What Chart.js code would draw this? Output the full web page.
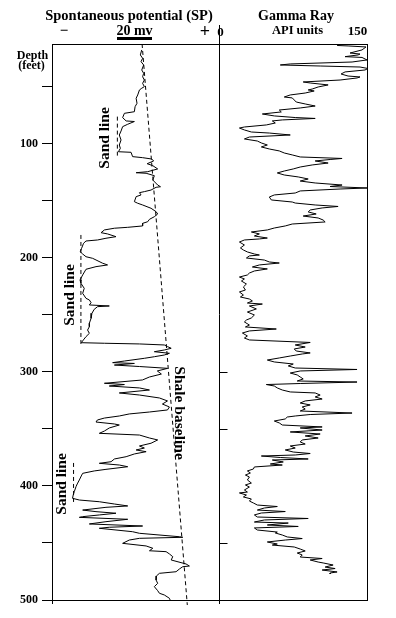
<!DOCTYPE html>
<html>
<head>
<meta charset="utf-8">
<title>SP and Gamma Ray log</title>
<script src="https://cdn.jsdelivr.net/npm/chart.js@4.4.0/dist/chart.umd.min.js"></script>
<style>
  body { margin: 0; background: #fff; }
  #wrap { width: 396px; height: 618px; }
</style>
</head>
<body>
<div id="wrap"><canvas id="logChart" width="396" height="618"></canvas></div>
<script>
// depth in feet, SP in mV (0 at the track divider), gamma ray in API units
const spDepth = [17.5, 21.9, 24.8, 27.8, 30.7, 35.1, 38.0, 41.0, 43.9, 46.8,
  49.7, 51.1, 52.6, 57.0, 59.9, 64.3, 67.3, 71.7, 73.1, 76.9,
  79.8, 80.3, 82.7, 84.8, 88.6, 92.1, 96.5, 100.9, 103.8, 106.8,
  107.3, 111.1, 112.0, 113.2, 114.9, 117.3, 119.0, 121.9, 124.3, 125.2,
  125.7, 127.8, 131.6, 136.0, 137.5, 138.0, 140.4, 141.8, 142.7, 144.7,
  146.2, 150.6, 152.0, 153.5, 156.4, 159.4, 161.4, 163.8, 166.1, 168.2,
  169.6, 171.9, 173.1, 173.9, 175.4, 177.8, 178.9, 181.3, 182.7, 184.2,
  185.1, 187.1, 191.5, 194.5, 196.5, 198.9, 200.3, 204.6, 206.1, 207.6,
  209.9, 214.9, 219.3, 222.2, 226.6, 231.0, 235.4, 236.8, 239.2, 241.2,
  242.1, 242.7, 245.0, 248.5, 252.9, 257.3, 260.3, 263.2, 266.1, 269.0,
  271.9, 274.3, 274.8, 275.4, 276.3, 277.8, 279.2, 280.7, 282.2, 283.6,
  285.1, 286.6, 288.0, 290.4, 291.8, 292.5, 293.9, 295.2, 296.8, 299.1,
  301.8, 304.4, 307.0, 309.9, 311.0, 312.3, 314.0, 315.8, 318.4, 320.2,
  322.8, 325.4, 328.1, 330.7, 333.3, 335.1, 336.8, 338.6, 340.4, 342.1,
  343.9, 345.6, 346.5, 349.1, 351.8, 353.8, 355.3, 357.9, 359.6, 362.5,
  364.9, 366.7, 368.4, 369.9, 371.9, 374.3, 376.3, 378.7, 380.1, 381.6,
  383.1, 385.4, 386.8, 388.9, 391.2, 394.7, 398.2, 400.6, 405.0, 407.9,
  410.8, 412.3, 413.8, 415.8, 417.5, 418.7, 421.1, 422.5, 423.9, 425.4,
  426.9, 427.5, 429.2, 431.3, 433.3, 435.1, 436.2, 437.1, 440.1, 441.5,
  444.5, 445.0, 445.9, 447.4, 450.3, 452.6, 454.6, 456.8, 457.6, 459.6,
  462.0, 464.9, 468.4, 470.2, 470.8, 472.8, 475.2, 476.6, 478.9, 482.5,
  485.4, 488.3, 491.8, 494.1, 495.6, 498.5, 500.0];
const spMv = [-43.8, -44.6, -43.3, -44.2, -42.7, -43.8, -42.7, -43.3, -42.3, -43.3,
  -42.3, -43.8, -45.1, -46.1, -47.0, -46.5, -47.6, -48.0, -53.7, -54.7,
  -52.7, -48.0, -51.8, -54.7, -55.6, -56.6, -55.6, -56.6, -56.0, -57.1,
  -49.9, -49.0, -43.3, -38.1, -37.0, -40.7, -37.5, -34.7, -40.4, -47.0,
  -41.3, -36.6, -37.5, -34.7, -33.1, -35.6, -38.5, -42.3, -45.1, -44.2,
  -47.0, -48.0, -46.1, -43.3, -38.5, -35.6, -34.7, -36.6, -39.4, -40.4,
  -43.3, -43.3, -51.8, -59.4, -65.1, -67.0, -63.3, -58.5, -64.2, -69.0,
  -75.6, -77.0, -78.1, -78.9, -77.5, -75.6, -71.8, -66.1, -63.3, -69.9,
  -75.6, -77.5, -79.0, -78.5, -76.6, -77.5, -75.6, -73.7, -72.7, -73.7,
  -62.3, -69.0, -70.9, -72.2, -72.7, -73.7, -73.7, -74.7, -73.7, -75.6,
  -77.1, -78.3, -65.1, -45.1, -30.9, -29.0, -27.0, -30.9, -36.6, -28.0,
  -30.9, -36.6, -42.3, -53.7, -60.4, -48.0, -59.4, -45.1, -29.0, -34.9,
  -32.6, -39.4, -43.4, -65.1, -53.7, -62.3, -45.1, -39.4, -56.6, -45.1,
  -33.7, -29.1, -32.0, -28.0, -29.1, -39.4, -50.9, -56.6, -65.1, -69.1,
  -69.9, -59.4, -56.6, -62.3, -65.1, -68.0, -45.1, -39.4, -34.7, -38.5,
  -45.1, -42.3, -47.0, -41.3, -48.0, -52.7, -59.4, -61.3, -68.0, -56.6,
  -51.8, -64.2, -70.9, -77.5, -78.3, -79.4, -80.6, -81.3, -82.3, -82.9,
  -83.3, -79.4, -68.0, -59.4, -51.8, -64.2, -77.5, -69.9, -58.5, -68.0,
  -77.5, -79.4, -51.8, -64.2, -73.7, -43.3, -62.3, -68.0, -49.0, -45.1,
  -22.3, -20.4, -45.1, -50.9, -54.7, -41.3, -37.5, -39.4, -29.9, -28.0,
  -26.1, -27.0, -18.5, -16.6, -20.4, -22.3, -24.2, -33.7, -35.4, -35.6,
  -34.7, -36.6, -34.7, -33.7, -30.9, -28.0, -27.6];

const grDepth = [13.6, 14.0, 14.9, 17.5, 20.2, 21.1, 21.9, 23.4, 24.1, 26.3,
  28.1, 29.8, 30.7, 31.6, 32.5, 33.8, 35.1, 36.8, 38.6, 40.4,
  41.2, 42.1, 43.9, 45.6, 46.5, 48.2, 50.0, 51.8, 52.6, 53.5,
  55.3, 57.0, 58.8, 59.6, 61.4, 63.2, 64.9, 66.7, 68.4, 70.2,
  71.9, 73.7, 75.4, 76.8, 77.6, 78.9, 79.8, 81.6, 83.3, 85.1,
  86.0, 87.7, 89.5, 90.4, 92.1, 93.9, 95.6, 97.4, 99.1, 100.9,
  102.6, 104.4, 106.1, 107.9, 109.6, 111.4, 112.7, 113.6, 114.9, 116.7,
  118.4, 120.2, 121.9, 123.7, 125.4, 127.2, 128.9, 130.7, 132.5, 134.2,
  136.0, 137.3, 138.6, 139.5, 141.2, 143.0, 144.7, 146.5, 149.1, 150.9,
  151.8, 153.5, 154.8, 156.1, 157.9, 159.6, 161.4, 163.2, 164.9, 166.7,
  168.4, 170.2, 171.9, 173.7, 175.4, 177.2, 178.9, 180.7, 182.5, 183.3,
  184.2, 186.0, 188.6, 191.2, 193.0, 194.7, 196.5, 197.4, 198.2, 200.0,
  201.8, 203.5, 204.4, 206.1, 207.9, 209.6, 211.4, 213.2, 214.9, 216.7,
  218.4, 220.2, 222.8, 225.4, 228.1, 229.8, 232.5, 234.2, 236.0, 237.7,
  239.5, 240.4, 242.1, 244.7, 247.4, 250.0, 252.6, 254.4, 256.1, 258.8,
  260.5, 262.3, 264.0, 265.8, 268.4, 270.2, 271.9, 274.1, 276.3, 278.1,
  279.8, 281.6, 283.3, 284.2, 286.0, 287.7, 289.5, 291.2, 293.0, 294.7,
  296.5, 297.8, 299.1, 300.9, 302.6, 304.4, 306.1, 307.9, 308.8, 310.1,
  311.0, 312.3, 314.0, 315.8, 317.5, 318.4, 320.2, 321.9, 323.7, 325.4,
  327.2, 328.9, 330.7, 332.5, 334.2, 336.0, 337.3, 338.6, 339.5, 341.2,
  343.0, 344.7, 346.5, 348.2, 349.1, 350.9, 352.6, 354.4, 356.1, 357.9,
  359.6, 361.4, 363.2, 364.9, 366.7, 368.4, 370.2, 371.5, 372.8, 373.7,
  375.0, 376.3, 377.2, 378.9, 380.7, 381.6, 383.3, 385.1, 386.8, 388.6,
  390.4, 392.1, 394.7, 397.4, 399.1, 400.9, 403.5, 405.3, 406.1, 407.9,
  409.6, 411.4, 413.2, 414.9, 416.7, 418.0, 419.3, 421.1, 422.4, 423.7,
  425.4, 427.2, 428.5, 429.8, 431.6, 432.5, 434.2, 435.5, 436.8, 438.6,
  440.4, 441.2, 443.0, 444.7, 446.1, 447.4, 449.1, 450.9, 451.8, 453.5,
  455.3, 457.0, 458.8, 460.5, 462.3, 463.6, 464.9, 466.7, 467.5, 469.3,
  471.1, 472.4, 473.7, 475.4, 476.3, 477.2];
const grApi = [119, 130, 148, 144, 132, 142, 140, 127, 144, 149,
  134, 72, 62, 102, 142, 150, 147, 127, 123, 130,
  142, 139, 122, 85, 92, 110, 100, 94, 90, 96,
  87, 72, 66, 74, 76, 78, 87, 97, 82, 61,
  63, 44, 56, 77, 97, 64, 54, 57, 48, 26,
  21, 26, 33, 51, 72, 31, 26, 39, 43, 49,
  43, 51, 61, 66, 74, 82, 124, 112, 97, 110,
  94, 82, 75, 66, 59, 66, 80, 90, 82, 97,
  124, 112, 149, 122, 82, 77, 56, 51, 53, 74,
  77, 97, 120, 104, 92, 90, 98, 85, 100, 105,
  107, 74, 67, 56, 49, 33, 41, 36, 49, 41,
  26, 21, 26, 22, 25, 29, 36, 41, 31, 28,
  46, 51, 61, 41, 34, 49, 36, 31, 29, 21,
  26, 23, 28, 25, 27, 21, 25, 22, 31, 34,
  29, 44, 31, 38, 29, 36, 33, 28, 26, 31,
  27, 58, 31, 24, 29, 26, 31, 92, 77, 87,
  76, 78, 92, 84, 72, 61, 49, 56, 75, 70,
  77, 139, 82, 72, 79, 82, 85, 79, 139, 82,
  48, 56, 59, 64, 72, 97, 102, 97, 104, 87,
  82, 92, 84, 87, 82, 134, 92, 77, 69, 67,
  56, 61, 64, 104, 82, 104, 72, 102, 87, 100,
  84, 82, 87, 72, 77, 67, 75, 92, 77, 43,
  62, 90, 54, 65, 52, 64, 36, 35, 29, 32,
  27, 31, 29, 33, 27, 31, 26, 29, 21, 28,
  25, 33, 31, 35, 39, 59, 46, 39, 67, 43,
  36, 39, 90, 46, 36, 70, 49, 80, 36, 39,
  59, 57, 64, 69, 84, 67, 49, 59, 54, 76,
  82, 87, 79, 84, 82, 104, 92, 100, 105, 115,
  107, 117, 104, 119, 112, 112];

// shale baseline and sand lines (dashed guides on the SP track)
const shaleDepth = [12.3, 504.4];
const shaleMv = [-43.6, -17.8];
const sandTop = [76.0, 179.8, 379.8];
const sandBottom = [111.0, 276.3, 414.9];
const sandMv = [-57.7, -78.5, -82.7];

const depthTicks = [50, 100, 150, 200, 250, 300, 350, 400, 450, 500];
const depthLabels = [100, 200, 300, 400, 500];
const dividerTicks = [300, 350, 450];

const FONT = '"Liberation Serif", "Times New Roman", serif';

function pts(ys, xs) {
  return ys.map((y, i) => ({ x: xs[i], y: y }));
}

const datasets = [
  {
    label: 'SP', xAxisID: 'xsp', yAxisID: 'y',
    data: pts(spDepth, spMv),
    showLine: true, borderColor: '#000', borderWidth: 1, pointRadius: 0
  },
  {
    label: 'Gamma Ray', xAxisID: 'xgr', yAxisID: 'y',
    data: pts(grDepth, grApi),
    showLine: true, borderColor: '#000', borderWidth: 1, pointRadius: 0
  },
  {
    label: 'Shale baseline', xAxisID: 'xsp', yAxisID: 'y',
    data: pts(shaleDepth, shaleMv),
    showLine: true, borderColor: '#000', borderWidth: 1, borderDash: [4, 3],
    pointRadius: 0, clip: false
  }
];
sandMv.forEach((mv, i) => {
  datasets.push({
    label: 'Sand line', xAxisID: 'xsp', yAxisID: 'y',
    data: pts([sandTop[i], sandBottom[i]], [mv, mv]),
    showLine: true, borderColor: '#000', borderWidth: 1, borderDash: [4, 3],
    pointRadius: 0
  });
});

function text(ctx, s, x, y, size, base) {
  ctx.font = 'bold ' + size + 'px ' + FONT;
  ctx.textAlign = 'center';
  ctx.textBaseline = base || 'alphabetic';
  ctx.fillText(s, x, y);
}

function turned(ctx, s, x, y, size, angle) {
  ctx.save();
  ctx.translate(x, y);
  ctx.rotate(angle);
  text(ctx, s, 0, 0, size, 'middle');
  ctx.restore();
}

const logFrame = {
  id: 'logFrame',
  afterDraw(chart) {
    const { ctx, chartArea: a, scales } = chart;
    const ys = scales.y, sp = scales.xsp;
    const mid = Math.round(scales.xgr.left) + 0.5;
    ctx.save();
    ctx.strokeStyle = '#000';
    ctx.lineWidth = 1;
    ctx.beginPath();
    ctx.moveTo(a.left, a.top + 0.5); ctx.lineTo(a.right, a.top + 0.5);
    ctx.moveTo(a.left, a.bottom + 0.5); ctx.lineTo(a.right, a.bottom + 0.5);
    ctx.moveTo(a.left + 0.5, a.top); ctx.lineTo(a.left + 0.5, a.bottom + 4);
    ctx.moveTo(a.right - 0.5, a.top); ctx.lineTo(a.right - 0.5, a.bottom);
    ctx.moveTo(mid, 25); ctx.lineTo(mid, a.bottom + 4);
    dividerTicks.forEach(d => {
      const y = Math.round(ys.getPixelForValue(d)) + 0.5;
      ctx.moveTo(mid, y); ctx.lineTo(mid + 8, y);
    });
    ctx.stroke();

    ctx.fillStyle = '#000';
    // track headers
    text(ctx, 'Spontaneous potential (SP)', 129, 20, 14.5);
    text(ctx, 'Gamma Ray', 296, 20, 14);
    text(ctx, '\u2212', 64, 35, 15);
    text(ctx, '20 mv', 134.5, 35, 14);
    ctx.fillRect(117, 37, 35, 3);
    text(ctx, '+', 205, 37, 18);
    text(ctx, '0', mid + 1, 36, 13);
    text(ctx, 'API units', 297.5, 34, 12.5);
    text(ctx, '150', 357.5, 35, 13);
    text(ctx, 'Depth', 32.5, 59, 12);
    text(ctx, '(feet)', 31.5, 69, 12);

    // notes on the SP track
    turned(ctx, 'Sand line', sp.getPixelForValue(-64.5), ys.getPixelForValue(94.7), 15.5, -Math.PI / 2);
    turned(ctx, 'Sand line', sp.getPixelForValue(-84.5), ys.getPixelForValue(232.5), 15.5, -Math.PI / 2);
    turned(ctx, 'Sand line', sp.getPixelForValue(-89.5), ys.getPixelForValue(398.2), 15.5, -Math.PI / 2);
    turned(ctx, 'Shale baseline', sp.getPixelForValue(-22.3), ys.getPixelForValue(336), 15.5, Math.PI / 2);
    ctx.restore();
  }
};

new Chart(document.getElementById('logChart'), {
  type: 'scatter',
  data: { datasets: datasets },
  options: {
    responsive: false,
    animation: false,
    events: [],
    layout: { padding: { top: 44, right: 28, bottom: 18, left: 0 } },
    plugins: { legend: { display: false }, tooltip: { enabled: false } },
    scales: {
      xsp: {
        type: 'linear', position: 'bottom', stack: 'tracks', stackWeight: 166.5,
        min: -95, max: 0, display: false
      },
      xgr: {
        type: 'linear', position: 'bottom', stack: 'tracks', stackWeight: 149.5,
        min: 0, max: 150, display: false
      },
      y: {
        type: 'linear', position: 'left', reverse: true, min: 12.3, max: 500,
        afterBuildTicks: s => { s.ticks = depthTicks.map(v => ({ value: v })); },
        afterFit: s => { s.width = 52; },
        border: { display: false },
        grid: { drawOnChartArea: false, drawTicks: true, tickLength: 10, tickColor: '#000', lineWidth: 1 },
        ticks: {
          color: '#000', padding: 4, autoSkip: false,
          font: { family: FONT, size: 12, weight: 'bold' },
          callback: v => depthLabels.includes(v) ? String(v) : ''
        }
      }
    }
  },
  plugins: [logFrame]
});
</script>
</body>
</html>
